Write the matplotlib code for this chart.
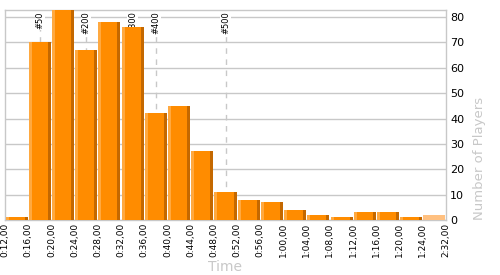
import matplotlib
matplotlib.use("Agg")
import matplotlib.pyplot as plt
import numpy as np

# bin edges (finish time) and number of players per bin
edges = ["0:12,00", "0:16,00", "0:20,00", "0:24,00", "0:28,00", "0:32,00",
         "0:36,00", "0:40,00", "0:44,00", "0:48,00", "0:52,00", "0:56,00",
         "1:00,00", "1:04,00", "1:08,00", "1:12,00", "1:16,00", "1:20,00",
         "1:24,00", "2:32,00"]
counts = [1, 70, 84, 67, 78, 76, 42, 45, 27, 11, 8, 7, 4, 2, 1, 3, 3, 1, 2]
outlier = [False] * 18 + [True]   # last bin is the wide 1:24-2:32 one

# rank markers: label and finish time in minutes
rank_labels = ["#50", "#200", "#300", "#400", "#500"]
rank_minutes = [18, 26, 34, 38, 50]

start_min = 12
bin_min = 4

main_c = "#ff8c00"
light_c = "#ffa940"
dark_c = "#c46800"
out_c = "#ffc080"
grid_c = "#c8c8c8"

fig = plt.figure(figsize=(5, 2.75), dpi=100)
ax = fig.add_axes([0.01, 0.2, 0.882, 0.7636])

x = np.arange(len(counts))
w = 0.95
sw = 0.13

# rank marker lines + labels (drawn under bars)
for lab, m in zip(rank_labels, rank_minutes):
    xm = (m - start_min) / bin_min - 0.5
    ax.axvline(xm, color=grid_c, lw=1, ls=(0, (4, 4)), zorder=1)
    ax.text(xm, 82.2, lab, rotation=90, ha="center", va="top", fontsize=6,
            color="black", zorder=1.5,
            bbox=dict(facecolor="white", edgecolor="none", pad=0.5))

for xi, v, o in zip(x, counts, outlier):
    if o:
        ax.bar(xi, v, width=w, color=out_c, zorder=3)
    else:
        ax.bar(xi, v, width=w, color=main_c, zorder=3)
        ax.bar(xi - w / 2, v, width=sw, align="edge", color=light_c, zorder=4)
        ax.bar(xi + w / 2 - sw, v, width=sw, align="edge", color=dark_c, zorder=4)

ax.set_xlim(-0.5, len(counts) - 0.5)
ax.set_ylim(0, 82.76)
ax.set_xticks(np.arange(len(edges)) - 0.5)
ax.set_xticklabels(edges, rotation=90, fontsize=6.5)
ax.set_yticks(np.arange(0, 81, 10))
ax.yaxis.tick_right()
ax.tick_params(axis="y", length=0, labelsize=8, pad=3)
ax.tick_params(axis="x", length=0, pad=2)
ax.grid(axis="y", color=grid_c, lw=1, zorder=0)
ax.set_axisbelow(True)
for s in ax.spines.values():
    s.set_color(grid_c)
    s.set_linewidth(1)

ax.set_xlabel("Time", fontsize=10, color=grid_c, labelpad=2)
ax.yaxis.set_label_position("right")
ax.set_ylabel("Number of Players", fontsize=9.5, color=grid_c, loc="bottom",
              labelpad=6)

fig.savefig("out.png", dpi=100)
